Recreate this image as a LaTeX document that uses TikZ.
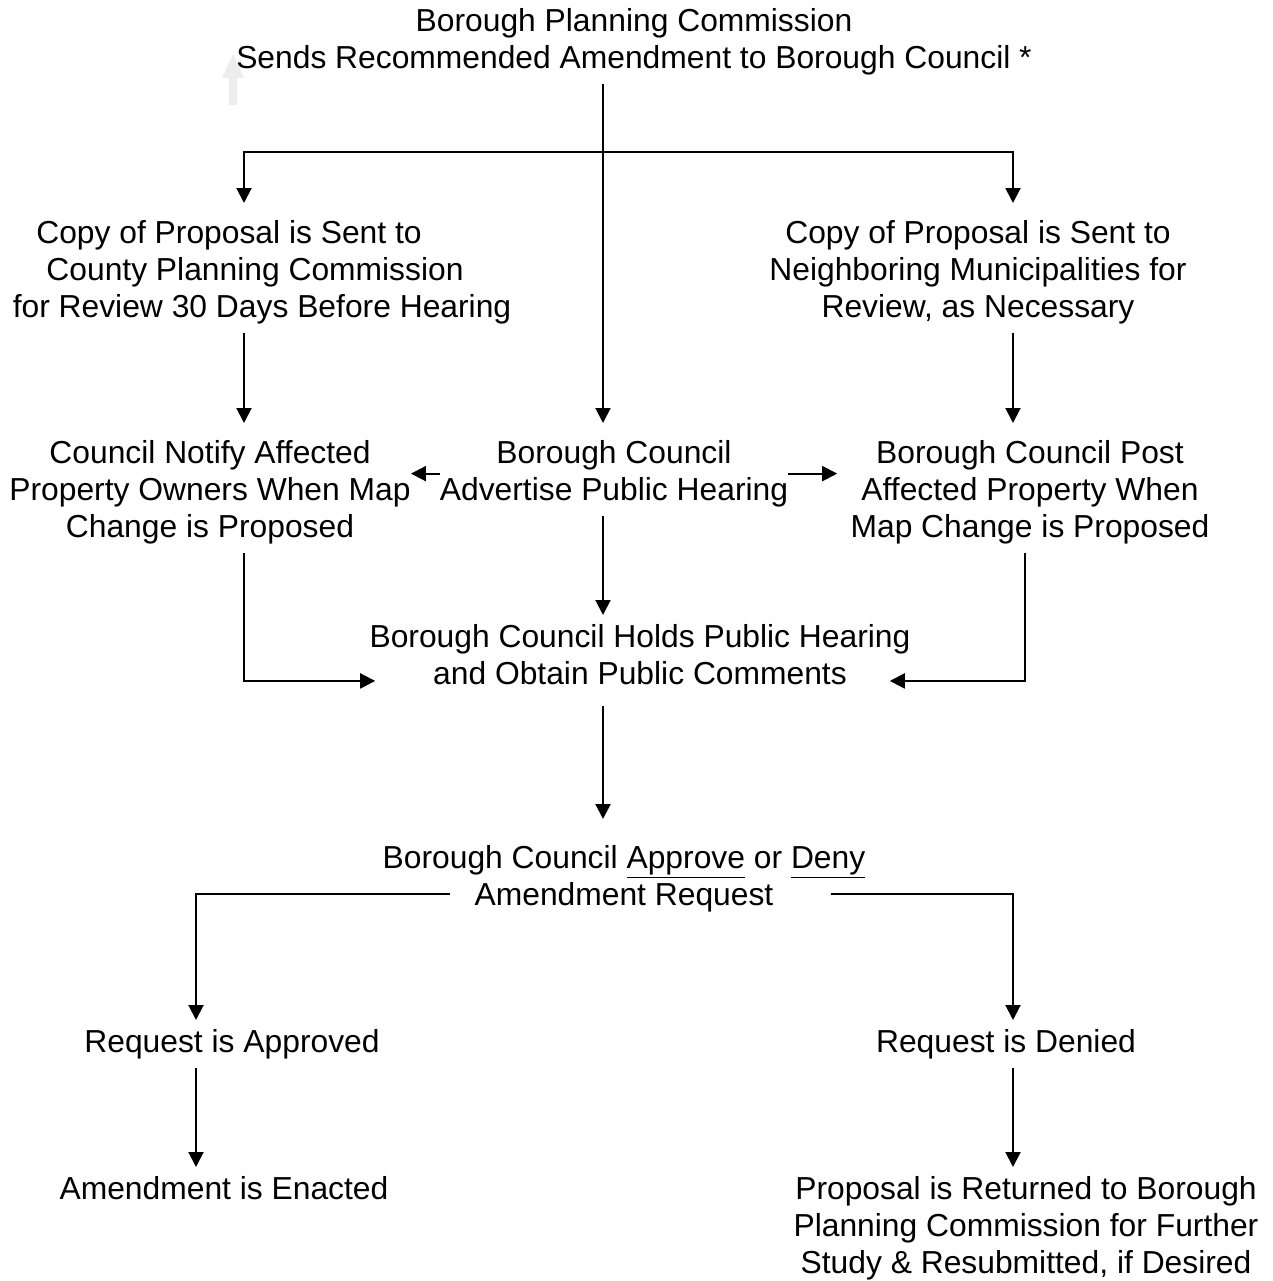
\documentclass[tikz,border=0pt]{standalone}
\usepackage{fontspec}
\setmainfont{Liberation Sans}
\usetikzlibrary{arrows.meta,calc}
\tikzset{%
  tbox/.style={anchor=north,align=center,inner xsep=0,inner ysep=0.18cm,font=\fontsize{18.1}{21}\selectfont},
  fedge/.style={draw,line width=0.04cm},
  farrow/.style={fedge,-{Triangle[length=0.3cm,width=0.3cm]}}
}

\begin{document}
\begin{tikzpicture}[x=0.02cm,y=-0.02cm]
    \useasboundingbox (0,0) rectangle (1272,1281);
    \fill[black!7] (229,105) -- (229,78) -- (222,78) -- (233,54) -- (244,78) -- (237,78) -- (237,105) -- cycle;
    \path
      (634,-1) node[tbox] (top) {Borough Planning Commission\\Sends Recommended Amendment to Borough Council *}
      (255,211) node[tbox] (cpc) {Copy of Proposal is Sent to\hspace*{1.04cm}\\County Planning Commission\hspace*{0.48cm}\\\hspace*{0.28cm}for Review 30 Days Before Hearing}
      (978,211) node[tbox] (cnb) {Copy of Proposal is Sent to\\Neighboring Municipalities for\\Review, as Necessary}
      (210,431) node[tbox] (notify) {Council Notify Affected\\Property Owners When Map\\Change is Proposed}
      (614,431) node[tbox] (adv) {Borough Council\\Advertise Public Hearing}
      (1030,431) node[tbox] (post) {Borough Council Post\\Affected Property When\\Map Change is Proposed}
      (640,615) node[tbox] (hold) {Borough Council Holds Public Hearing\\and Obtain Public Comments}
      (624,836) node[tbox] (decide) {Borough Council \underline{Approve} or \underline{Deny}\\Amendment Request}
      (232,1020) node[tbox] (appr) {Request is Approved}
      (1006,1020) node[tbox] (deny) {Request is Denied}
      (224,1167) node[tbox] (enact) {Amendment is Enacted}
      (1026,1167) node[tbox] (ret) {Proposal is Returned to Borough\\Planning Commission for Further\\Study \& Resubmitted, if Desired};
    % split points and line columns
    \coordinate (sp) at (603,152);
    \coordinate (lx) at (244,0);
    \coordinate (rx) at (1013,0);
    \coordinate (rx2) at (1025,0);
    \coordinate (ax) at (196,0);
    \draw[farrow,shorten >=0.16cm] (top.south -| sp) -- (adv.north -| sp);
    \draw[farrow,shorten >=0.16cm] (sp) -| (cpc.north -| lx);
    \draw[farrow,shorten >=0.16cm] (sp) -| (cnb.north -| rx);
    \draw[farrow,shorten >=0.16cm] (cpc.south -| lx) -- (notify.north -| lx);
    \draw[farrow,shorten >=0.16cm] (cnb.south -| rx) -- (post.north -| rx);
    \draw[farrow] (adv.west) -- (adv.west -| notify.east);
    \draw[farrow,shorten >=0.26cm] (adv.east) -- (adv.east -| post.west);
    \draw[farrow] (adv.south -| sp) -- (hold.north -| sp);
    \draw[farrow] (notify.south -| lx) |- ([shift={(6,-13)}]hold.south west);
    \draw[farrow] (post.south -| rx2) |- ([shift={(-21,-13)}]hold.south east);
    \draw[farrow,shorten <=0.24cm,shorten >=0.34cm] (hold.south -| sp) -- (decide.north -| sp);
    \draw[farrow] ([shift={(68,-27)}]decide.south west) -| (appr.north -| ax);
    \draw[farrow] ([shift={(-35,-27)}]decide.south east) -| (deny.north -| rx);
    \draw[farrow] (appr.south -| ax) -- (enact.north -| ax);
    \draw[farrow] (deny.south -| rx) -- (ret.north -| rx);
\end{tikzpicture}
\end{document}
